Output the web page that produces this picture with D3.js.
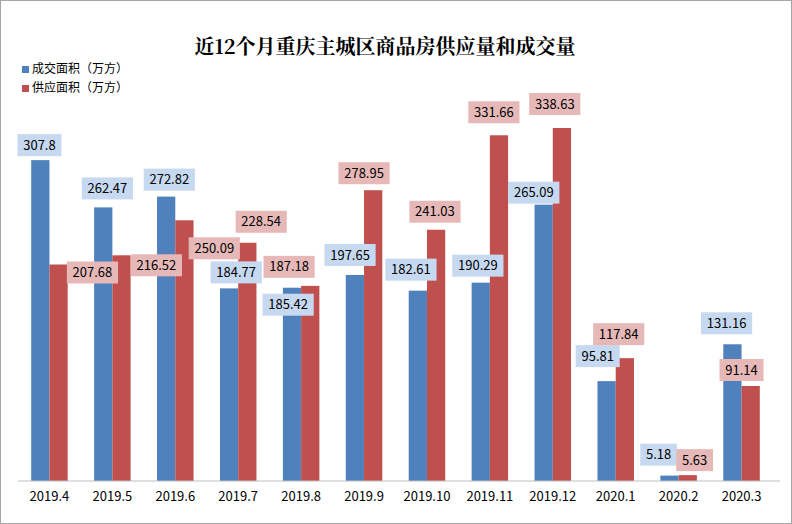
<!DOCTYPE html>
<html><head><meta charset="utf-8">
<script src="https://cdn.jsdelivr.net/npm/d3@7.9.0/dist/d3.min.js"></script>
<style>body{margin:0;background:#fff}svg{display:block}</style>
</head><body>
<svg id="chart" width="792" height="524"></svg>
<script>
// Data
const months = ['2019.4','2019.5','2019.6','2019.7','2019.8','2019.9','2019.10','2019.11','2019.12','2020.1','2020.2','2020.3'];
const deal = [307.8, 262.47, 272.82, 184.77, 185.42, 197.65, 182.61, 190.29, 265.09, 95.81, 5.18, 131.16];
const supply = [207.68, 216.52, 250.09, 228.54, 187.18, 278.95, 241.03, 331.66, 338.63, 117.84, 5.63, 91.14];
const seriesNames = ['成交面积（万方）', '供应面积（万方）'];

// label nudges (px) relative to category centre / bar top, so boxes don't collide
const dealLabelDx = [-10, -5, -6, -2, -13, -14, -16, -12, -19, -18, -20, -15];
const dealLabelDy = [-15, -19, -17, -16, 17, -20, -21, -17, -12, -25, -21, -21];
const supplyLabelDx = [43, 44, 39, 23, -12, 0, 8, 4, 2, 3, 16, 0];
const supplyLabelDy = [8, 10, 28, -21, -19, -17, -18, -23, -24, -24, -15, -16];

const blue = '#4f81bd', red = '#c0504d';
const blueBox = '#c6d9f1', redBox = '#e6b9b8';
const font = '"Noto Sans CJK SC", "Noto Sans", sans-serif';

const svg = d3.select('#chart');
svg.append('rect').attr('x', 0.5).attr('y', 0.5).attr('width', 791).attr('height', 523)
  .attr('fill', '#fff').attr('stroke', '#a6a6a6');

// --- scales ---
const x = d3.scaleBand().domain(months).range([18, 773]).paddingInner(0.42).paddingOuter(0.21);
const y = d3.scaleLinear().domain([0, 338.63]).range([481, 128]);
const bw = x.bandwidth() / 2;

// --- title ---
svg.append('text').attr('x', 385).attr('y', 54).attr('text-anchor', 'middle')
  .attr('font-family', '"Noto Serif CJK SC", "Noto Sans CJK SC", serif').attr('font-weight', 'bold')
  .attr('font-size', 20).attr('fill', '#000').text('近12个月重庆主城区商品房供应量和成交量');

// --- legend ---
[blue, red].forEach((c, i) => {
  const g = svg.append('g').attr('transform', `translate(22,${66 + i * 19})`);
  g.append('rect').attr('width', 7).attr('height', 7).attr('fill', c);
  g.append('text').attr('x', 10).attr('y', 7).attr('font-family', font).attr('font-size', 12)
    .attr('fill', '#000').text(seriesNames[i]);
});

// --- bars ---
svg.selectAll('.deal').data(deal).join('rect')
  .attr('x', (d, i) => x(months[i])).attr('y', d => y(d))
  .attr('width', bw).attr('height', d => y(0) - y(d)).attr('fill', blue);
svg.selectAll('.supply').data(supply).join('rect')
  .attr('x', (d, i) => x(months[i]) + bw).attr('y', d => y(d))
  .attr('width', bw).attr('height', d => y(0) - y(d)).attr('fill', red);

// --- axis ---
const axis = svg.append('g').attr('transform', 'translate(0,481)')
  .call(d3.axisBottom(x).tickSize(0).tickPadding(11));
axis.select('.domain').attr('stroke', '#bfbfbf').attr('d', 'M18,0H780');
axis.selectAll('text').attr('font-family', font).attr('font-size', 13).attr('fill', '#000');

// --- value labels ---
function labels(vals, dxs, dys, fill) {
  const g = svg.append('g').selectAll('g').data(vals).join('g')
    .attr('transform', (d, i) => `translate(${x(months[i]) + bw + dxs[i]},${y(d) + dys[i]})`);
  g.append('rect').attr('x', d => -String(d).length * 3.6 - 4).attr('y', -11)
    .attr('width', d => String(d).length * 7.2 + 8).attr('height', 22).attr('fill', fill);
  g.append('text').attr('text-anchor', 'middle').attr('dy', '0.35em')
    .attr('font-family', font).attr('font-size', 13).attr('fill', '#000').text(d => d);
}
labels(deal, dealLabelDx, dealLabelDy, blueBox);
labels(supply, supplyLabelDx, supplyLabelDy, redBox);
</script>
</body></html>
